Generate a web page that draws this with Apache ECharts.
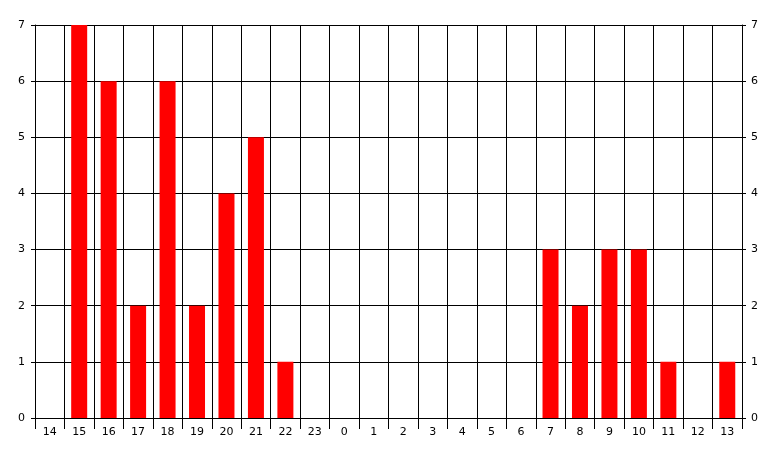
<!DOCTYPE html>
<html><head><meta charset="utf-8">
<script src="https://cdn.jsdelivr.net/npm/echarts@6/dist/echarts.min.js"></script>
<style>html,body{margin:0;padding:0;background:#fff}#c{width:777px;height:457px}</style>
</head><body><div id="c"></div>
<script>
const categories = ['14','15','16','17','18','19','20','21','22','23','0','1','2','3','4','5','6','7','8','9','10','11','12','13'];
const values = [0,7,6,2,6,2,4,5,1,0,0,0,0,0,0,0,0,3,2,3,3,1,0,1];
const yTicks = [0,1,2,3,4,5,6,7];

const chart = echarts.init(document.getElementById('c'), null, {renderer:'canvas'});
const font = {fontFamily:'DejaVu Sans, Verdana, sans-serif', fontSize:11, color:'#000'};
function yAxisBase(pos, margin, split) {
  return {
    type:'value', position:pos, min:yTicks[0], max:yTicks[yTicks.length-1], interval:1,
    axisLine:{show:true, lineStyle:{color:'#000', width:1}},
    axisTick:{show:true, length:4, lineStyle:{color:'#000'}},
    axisLabel:Object.assign({margin:margin}, font),
    splitLine:{show:split, lineStyle:{color:'#000', width:1}}
  };
}
chart.setOption({
  animation:false,
  backgroundColor:'#fff',
  grid:{left:35, right:35, top:25, bottom:39, containLabel:false},
  xAxis:{
    type:'category', data:categories, boundaryGap:true,
    axisLine:{show:true, lineStyle:{color:'#000'}},
    axisTick:{show:true, length:11, alignWithLabel:false, interval:0, lineStyle:{color:'#000'}},
    axisLabel:Object.assign({margin:9, interval:0}, font),
    splitLine:{show:true, interval:0, lineStyle:{color:'#000', width:1}}
  },
  yAxis:[yAxisBase('left', 10, true), yAxisBase('right', 9, false)],
  series:[{type:'bar', data:values, barWidth:16, itemStyle:{color:'#ff0000'}}]
});
</script></body></html>
